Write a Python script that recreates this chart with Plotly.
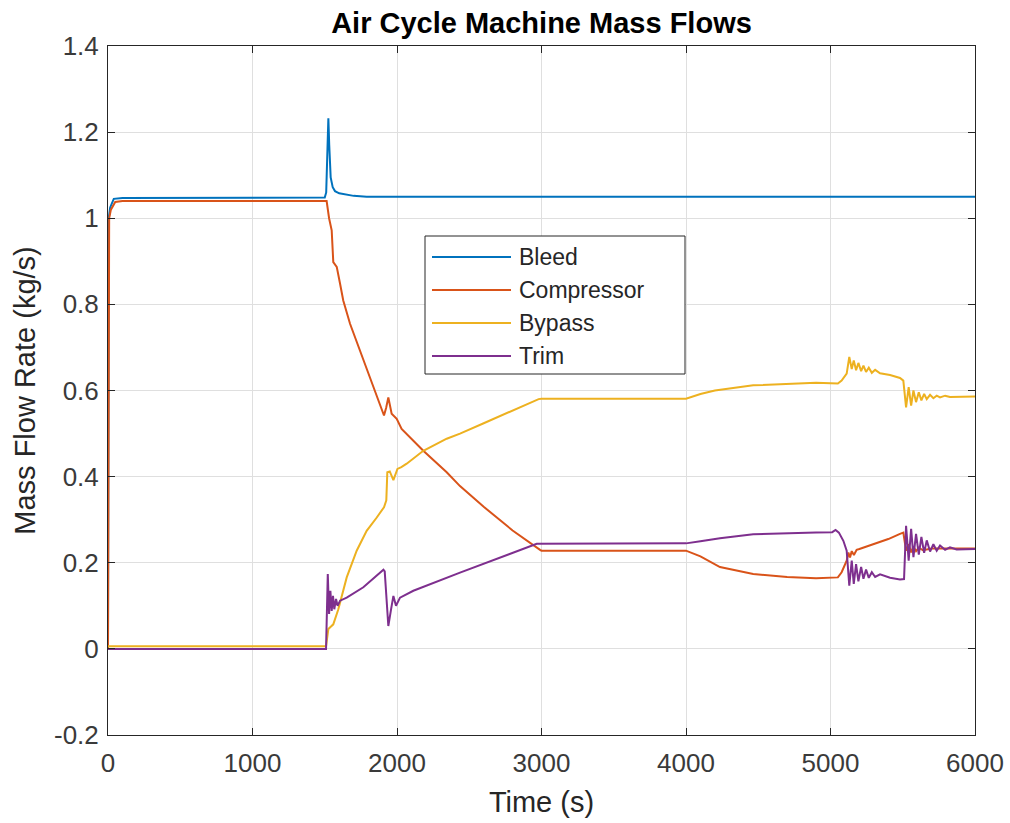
import plotly.graph_objects as go

# ---------------- data ----------------
series_names = ["Bleed", "Compressor", "Bypass", "Trim"]
series_colors = ["#0072BD", "#D95319", "#EDB120", "#7E2F8E"]

bleed_t = [0, 5, 15, 40, 100, 1500, 1510, 1518, 1525, 1531, 1541, 1555, 1571, 1600, 1650, 1700, 1790, 6000]
bleed_v = [0, 1.0, 1.025, 1.045, 1.047, 1.048, 1.06, 1.17, 1.232, 1.17, 1.095, 1.072, 1.063, 1.058, 1.055, 1.052, 1.05, 1.05]

comp_t = [0, 8, 20, 50, 100, 1513, 1530, 1548, 1559, 1583, 1606, 1628, 1675, 1744, 1813, 1882, 1910, 1925,
          1940, 1963, 1980, 1998, 2032, 2182, 2344, 2436, 2600, 2800, 2990, 3000, 4000, 4100, 4235, 4465,
          4700, 4900, 5051, 5077, 5112, 5124, 5135, 5147, 5162, 5181, 5200, 5300, 5400, 5481, 5504, 5523,
          5541, 5558, 5574, 5592, 5611, 5640, 5700, 6000]
comp_v = [0, 1.0, 1.02, 1.038, 1.04, 1.04, 1.0, 0.972, 0.898, 0.887, 0.848, 0.809, 0.755, 0.693, 0.631, 0.569, 0.542, 0.56,
          0.584, 0.546, 0.54, 0.534, 0.511, 0.46, 0.41, 0.378, 0.33, 0.275, 0.23, 0.228, 0.228, 0.215, 0.19, 0.174,
          0.167, 0.164, 0.166, 0.178, 0.205, 0.224, 0.212, 0.227, 0.218, 0.23, 0.232, 0.243, 0.255, 0.267, 0.27, 0.228,
          0.243, 0.224, 0.238, 0.227, 0.235, 0.229, 0.233, 0.233]

bypass_t = [0, 1509, 1525, 1540, 1559, 1594, 1652, 1721, 1790, 1860, 1910, 1926, 1933, 1950, 1975, 2003, 2030,
            2067, 2182, 2344, 2436, 2600, 2800, 2980, 3000, 4000, 4100, 4200, 4465, 4700, 4900, 5051, 5077,
            5112, 5130, 5147, 5161, 5177, 5193, 5212, 5228, 5246, 5265, 5286, 5309, 5343, 5412, 5481, 5504,
            5523, 5541, 5558, 5574, 5592, 5611, 5629, 5648, 5666, 5689, 5712, 5735, 5758, 5793, 5827, 6000]
bypass_v = [0.006, 0.006, 0.046, 0.05, 0.057, 0.092, 0.166, 0.228, 0.274, 0.305, 0.329, 0.345, 0.41, 0.412, 0.392, 0.418, 0.422,
            0.43, 0.46, 0.488, 0.5, 0.524, 0.554, 0.58, 0.581, 0.581, 0.592, 0.6, 0.612, 0.616, 0.618, 0.616, 0.623,
            0.639, 0.678, 0.65, 0.67, 0.647, 0.664, 0.645, 0.658, 0.643, 0.653, 0.641, 0.648, 0.640, 0.636, 0.629, 0.623,
            0.561, 0.608, 0.565, 0.6, 0.573, 0.596, 0.577, 0.592, 0.58, 0.59, 0.582, 0.588, 0.584, 0.588, 0.585, 0.586]

trim_t = [0, 1509, 1521, 1530, 1539, 1548, 1557, 1566, 1578, 1589, 1606, 1652, 1767, 1906, 1915, 1928, 1940, 1958,
          1975, 1993, 2021, 2113, 2228, 2436, 2967, 4000, 4100, 4235, 4465, 4700, 4900, 5012, 5035, 5058, 5089,
          5112, 5130, 5147, 5161, 5177, 5193, 5212, 5228, 5246, 5265, 5286, 5309, 5343, 5412, 5481, 5509, 5523,
          5541, 5558, 5574, 5592, 5611, 5629, 5648, 5666, 5689, 5712, 5735, 5758, 5793, 5827, 5873, 6000]
trim_v = [0.0, 0.0, 0.174, 0.081, 0.135, 0.088, 0.123, 0.092, 0.116, 0.1, 0.112, 0.119, 0.143, 0.184, 0.18, 0.112, 0.053, 0.09,
          0.123, 0.1, 0.119, 0.135, 0.15, 0.177, 0.244, 0.245, 0.25, 0.257, 0.266, 0.269, 0.27, 0.271, 0.276, 0.27, 0.251,
          0.228, 0.147, 0.205, 0.151, 0.197, 0.157, 0.19, 0.163, 0.184, 0.165, 0.178, 0.167, 0.173, 0.165, 0.161, 0.162, 0.286,
          0.205, 0.279, 0.213, 0.267, 0.219, 0.26, 0.223, 0.252, 0.226, 0.243, 0.228, 0.24, 0.23, 0.236, 0.231, 0.232]

x_tick_vals = [0, 1000, 2000, 3000, 4000, 5000, 6000]
x_tick_text = ["0", "1000", "2000", "3000", "4000", "5000", "6000"]
y_tick_vals = [-0.2, 0, 0.2, 0.4, 0.6, 0.8, 1.0, 1.2, 1.4]
y_tick_text = ["-0.2", "0", "0.2", "0.4", "0.6", "0.8", "1", "1.2", "1.4"]

title_text = "Air Cycle Machine Mass Flows"
x_title = "Time (s)"
y_title = "Mass Flow Rate (kg/s)"

# ---------------- figure ----------------
FONT = "Liberation Sans, Arial, Helvetica, sans-serif"
AX = "#262626"
TICKC = "#3a3a3a"

series = [(bleed_t, bleed_v), (comp_t, comp_v), (bypass_t, bypass_v), (trim_t, trim_v)]
for (t, v) in series:
    assert len(t) == len(v), (len(t), len(v))

fig = go.Figure()
for name, color, (t, v) in zip(series_names, series_colors, series):
    fig.add_trace(go.Scatter(x=t, y=v, mode="lines", name=name,
                             line=dict(color=color, width=2), showlegend=False))

# page is rendered with body margin removed (see post_script), so figure px == page px
W, H = 1010, 823
L, R, T, B = 108, 35, 46, 88
pw, ph = W - L - R, H - T - B


def px(X):  # page x -> paper
    return (X - L) / pw


def py(Y):  # page y -> paper
    return (H - B - Y) / ph


# manual legend (MATLAB style) in paper coordinates
shapes = [dict(type="rect", xref="paper", yref="paper", x0=px(425), x1=px(685), y0=py(374), y1=py(236),
               line=dict(color=AX, width=1), fillcolor="white", layer="above")]
annotations = []
legend_rows = [257, 290, 323, 356]
for name, color, yy in zip(series_names, series_colors, legend_rows):
    shapes.append(dict(type="line", xref="paper", yref="paper", x0=px(432), x1=px(511), y0=py(yy), y1=py(yy),
                       line=dict(color=color, width=2), layer="above"))
    annotations.append(dict(xref="paper", yref="paper", x=px(517), y=py(yy), text=name, showarrow=False,
                            xanchor="left", yanchor="middle", font=dict(family=FONT, size=23, color=AX)))

fig.update_layout(
    width=W, height=H,
    margin=dict(l=L, r=R, t=T, b=B, autoexpand=False),
    paper_bgcolor="white", plot_bgcolor="white",
    title=dict(text="<b>" + title_text + "</b>", x=0.5, xref="paper", xanchor="center",
               y=1 - 23 / H, yref="container", yanchor="middle",
               font=dict(family=FONT, size=29, color="black")),
    font=dict(family=FONT, color=AX),
    shapes=shapes,
    annotations=annotations,
)
fig.update_xaxes(range=[0, 6000], tickvals=x_tick_vals, ticktext=x_tick_text, automargin=False,
                 showgrid=True, gridcolor="#dfdfdf", gridwidth=1, zeroline=False,
                 showline=True, linecolor=AX, linewidth=1, mirror="ticks",
                 ticks="inside", ticklen=7, tickcolor=AX, tickwidth=1,
                 ticklabeloverflow="allow", ticklabelstandoff=5,
                 tickfont=dict(family=FONT, size=26, color=TICKC),
                 title=dict(text=x_title, font=dict(family=FONT, size=29, color=AX), standoff=14))
fig.update_yaxes(range=[-0.2, 1.4], tickvals=y_tick_vals, ticktext=y_tick_text, automargin=False,
                 showgrid=True, gridcolor="#dfdfdf", gridwidth=1, zeroline=False,
                 showline=True, linecolor=AX, linewidth=1, mirror="ticks",
                 ticks="inside", ticklen=7, tickcolor=AX, tickwidth=1,
                 ticklabeloverflow="allow", ticklabelstandoff=3,
                 tickfont=dict(family=FONT, size=26, color=TICKC),
                 title=dict(text=y_title, font=dict(family=FONT, size=29, color=AX), standoff=9))

fig.write_html("out.html", config={"displayModeBar": False},
               post_script="document.body.style.margin='0';document.body.style.overflow='hidden';")
